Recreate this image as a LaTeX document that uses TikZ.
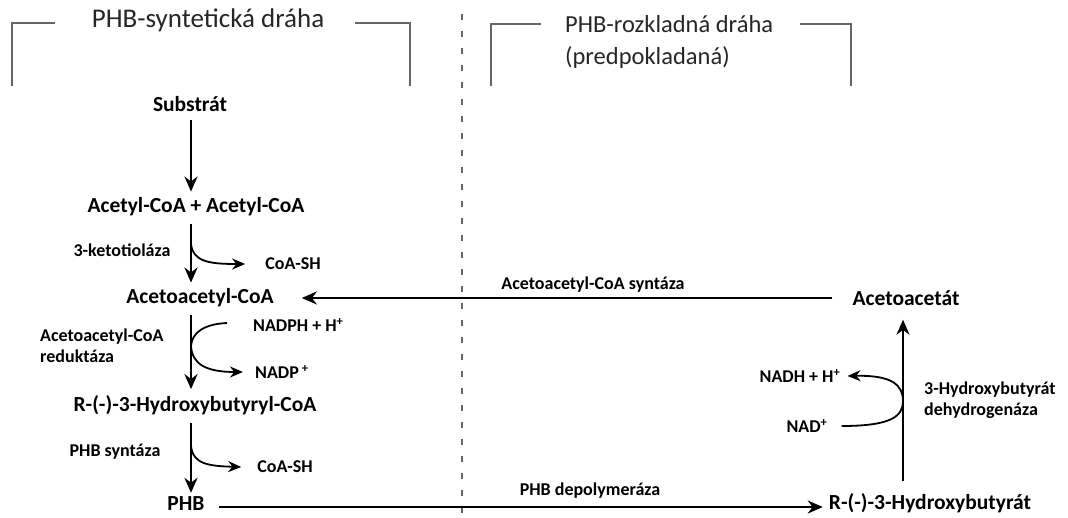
\documentclass[tikz,border=0pt]{standalone}
\usepackage{fontspec}
\setmainfont{Carlito}
\usetikzlibrary{arrows.meta}
\usetikzlibrary{positioning}

\begin{document}
\begin{tikzpicture}[x=1pt, y=-1pt,
			compound/.style={font=\bfseries\fontsize{21.5}{24}\selectfont, inner sep=2pt},
			enzyme/.style={font=\bfseries\fontsize{18}{21}\selectfont, inner sep=2pt, align=left},
			header/.style={font=\fontsize{27}{32}\selectfont, text=black!85, align=left, inner sep=0pt},
			bracket/.style={draw=black!60, line width=2pt},
			reaction/.style={-{Stealth[length=15pt, width=13pt]}, line width=2.4pt},
			side/.style={-{Stealth[length=13pt, width=11pt]}, line width=1.8pt}]
			\useasboundingbox (0,0) rectangle (1068,517);
			
			% titles and brackets
			\node[header](synthTitle) at (208,20) {PHB-syntetická dráha};
			\draw[bracket] (12,86) |- (55,23);
			\draw[bracket] (355,23) -| (410,86);
			\node[header, anchor=west, font=\fontsize{24.5}{32}\selectfont](degTitle) at (565,42) {PHB-rozkladná dráha\\(predpokladaná)};
			\draw[bracket] (491,86) |- (541,24);
			\draw[bracket] (800,24) -| (851,86);
			\draw[draw=black!60, line width=2pt, dash pattern=on 6pt off 11pt] (462,14) -- (462,517);
			
			% synthesis
			\coordinate (axis) at (191,0);
			\node[compound](substrat) at (190,104) {Substrát};
			\node[compound](acetyl) at (196,207) {Acetyl-CoA + Acetyl-CoA};
			\node[compound](acetoacetylCoA) at (200,298) {Acetoacetyl-CoA};
			\node[compound](hbCoA) at (195,405) {R-(-)-3-Hydroxybutyryl-CoA};
			\node[compound](phb) at (186,504) {PHB};
			
			\draw[reaction] ([yshift=-6pt]axis |- substrat.south) -- ([yshift=4pt]axis |- acetyl.north);
			\draw[reaction] ([yshift=-6pt]axis |- acetyl.south) -- ([yshift=4pt]axis |- acetoacetylCoA.north);
			\draw[reaction] ([yshift=-6pt]axis |- acetoacetylCoA.south) -- ([yshift=4pt]axis |- hbCoA.north);
			\draw[reaction] ([yshift=-6pt]axis |- hbCoA.south) -- ([yshift=2pt]axis |- phb.north);
			
			\node[enzyme](thiolase) at (122,250) {3-ketotioláza};
			\node[enzyme](coaSH1) at (293,264) {CoA-SH};
			\draw[side] (axis |- 0,244) .. controls (193,262) and (210,264) .. ([xshift=-18pt]coaSH1.west);
			
			\node[enzyme, anchor=west](reductase) at (38,346) {Acetoacetyl-CoA\\reduktáza};
			\node[enzyme, anchor=west](nadph) at (251,325) {NADPH + H\textsuperscript{+}};
			\node[enzyme, anchor=west](nadp) at (253,372) {NADP\,\textsuperscript{+}};
			\coordinate (redPoint) at (191,346);
			\draw[side, -] ([xshift=-24pt, yshift=2pt]nadph.west) .. controls (205,324) and (192,332) .. (redPoint);
			\draw[side] (redPoint) .. controls (192,364) and (206,372) .. ([xshift=-10pt]nadp.west);
			
			\node[enzyme](synthase) at (115,452) {PHB syntáza};
			\node[enzyme](coaSH2) at (285,467) {CoA-SH};
			\draw[side] (axis |- 0,446) .. controls (193,464) and (208,466) .. ([xshift=-14pt]coaSH2.west);
			
			% degradation
			\coordinate (axisR) at (903,0);
			\node[compound](hb) at (930,503) {R-(-)-3-Hydroxybutyrát};
			\node[compound](acetoacetat) at (906,298) {Acetoacetát};
			
			\draw[reaction] (phb.east) ++(12,3) coordinate (phbOut) -- ([xshift=-4pt]hb.west |- phbOut);
			\node[enzyme](depolymerase) at (590,491) {PHB depolymeráza};
			
			\draw[reaction] ([yshift=10pt]axisR |- hb.north) -- ([yshift=-12pt]axisR |- acetoacetat.south);
			\node[enzyme, anchor=west](dehydrogenase) at (922,400) {3-Hydroxybutyrát\\dehydrogenáza};
			\node[enzyme](nadh) at (800,376) {NADH + H\textsuperscript{+}};
			\node[enzyme](nad) at (807,426) {NAD\textsuperscript{+}};
			\coordinate (dehPoint) at (903,401);
			\draw[side, -] ([xshift=12pt]nad.east) .. controls (892,426) and (903,416) .. (dehPoint);
			\draw[side] (dehPoint) .. controls (903,385) and (892,375) .. ([xshift=5pt]nadh.east);
			
			\draw[reaction] ([xshift=-18pt]acetoacetat.west) -- ([xshift=26pt]acetoacetylCoA.east);
			\node[enzyme](acSynthase) at (593,285) {Acetoacetyl-CoA syntáza};
\end{tikzpicture}
\end{document}
